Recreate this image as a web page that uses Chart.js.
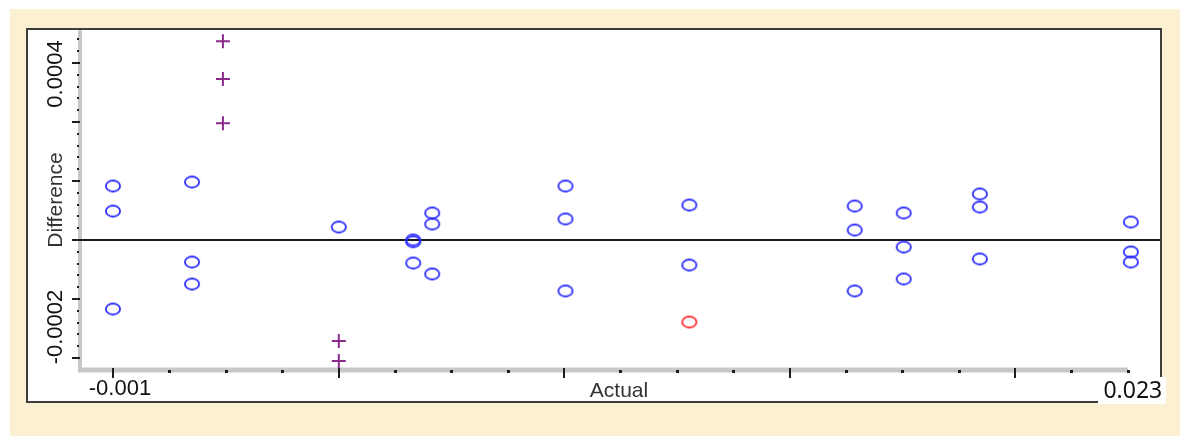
<!DOCTYPE html>
<html>
<head>
<meta charset="utf-8">
<title>Difference vs Actual</title>
<script src="https://cdn.jsdelivr.net/npm/chart.js@4.4.1/dist/chart.umd.min.js"></script>
<style>
    html, body { margin: 0; padding: 0; background: #ffffff; }
    #chart { display: block; }
</style>
</head>
<body>
<canvas id="chart" width="1180" height="436"></canvas>
<script>
// values
const blueX = [-0.001, -0.001, -0.001, 0.00087, 0.00087, 0.00087, 0.00434, 0.0061, 0.0061, 0.0061,
    0.00655, 0.00655, 0.00655, 0.0097, 0.0097, 0.0097, 0.01263, 0.01263, 0.01654, 0.01654, 0.01654,
    0.0177, 0.0177, 0.0177, 0.0195, 0.0195, 0.0195, 0.02307, 0.02307, 0.02307];
const blueY = [0.0000915, 0.0000490, -0.0001170, 0.0000983, -0.0000373, -0.0000746, 0.0000220, 0.0000000, -0.0000030, -0.0000390,
    0.0000458, 0.0000271, -0.0000576, 0.0000915, 0.0000356, -0.0000864, 0.0000593, -0.0000424, 0.0000576, 0.0000169, -0.0000864,
    0.0000458, -0.0000119, -0.0000661, 0.0000780, 0.0000559, -0.0000322, 0.0000305, -0.0000203, -0.0000373];
const redX = [0.01263];
const redY = [-0.000139];
const plusX = [0.0016, 0.0016, 0.0016, 0.00434, 0.00434];
const plusY = [0.000337, 0.000273, 0.000198, -0.000171, -0.000205];

const xLabels = ["-0.001", "Actual", "0.023"];
const yLabels = ["0.0004", "Difference", "-0.0002"];

const xStart = -0.001, xEnd = 0.023;   // ends of the drawn x axis
const xMinorStep = 0.024 / 18;
const yMinorStep = 0.00002, yMajorStep = 0.0001;
const yTickFrom = -0.0002, yTickTo = 0.00034;

function toPoints(xs, ys) {
    return xs.map((x, i) => ({ x: x, y: ys[i] }));
}

// little ellipse used as the marker for the circles
function ellipseMarker(color) {
    const c = document.createElement("canvas");
    c.width = 18;
    c.height = 15;
    const g = c.getContext("2d");
    g.strokeStyle = color;
    g.lineWidth = 1.8;
    g.beginPath();
    g.ellipse(9, 7.5, 7.1, 5.5, 0, 0, Math.PI * 2);
    g.stroke();
    return c;
}

const frame = {
    id: "frame",
    beforeDraw(chart) {
        const ctx = chart.ctx;
        ctx.save();
        // cream page and white box
        ctx.fillStyle = "#fcf0d3";
        ctx.fillRect(10, 9, 1170, 427);
        ctx.fillStyle = "#ffffff";
        ctx.fillRect(27, 29, 1134, 373);
        ctx.strokeStyle = "#3c3c3c";
        ctx.lineWidth = 2;
        ctx.strokeRect(27, 29, 1134, 373);
        ctx.restore();
    },
    beforeDatasetsDraw(chart) {
        const ctx = chart.ctx;
        const area = chart.chartArea;
        const xs = chart.scales.x, ys = chart.scales.y;
        ctx.save();

        // gray axis lines
        ctx.strokeStyle = "#c8c8c8";
        ctx.lineWidth = 4;
        ctx.beginPath();
        ctx.moveTo(area.left, area.top);
        ctx.lineTo(area.left, area.bottom + 2);
        ctx.stroke();
        ctx.lineWidth = 5;
        ctx.beginPath();
        ctx.moveTo(area.left - 2, area.bottom);
        ctx.lineTo(xs.getPixelForValue(xEnd), area.bottom);
        ctx.stroke();

        // zero line
        const y0 = ys.getPixelForValue(0);
        ctx.strokeStyle = "#1a1a1a";
        ctx.lineWidth = 1.8;
        ctx.beginPath();
        ctx.moveTo(area.left, y0);
        ctx.lineTo(area.right, y0);
        ctx.stroke();

        // y ticks
        ctx.fillStyle = "#1e1e1e";
        const nY = Math.round((yTickTo - yTickFrom) / yMinorStep);
        for (let i = 0; i <= nY; i++) {
            const v = yTickFrom + i * yMinorStep;
            const py = Math.round(ys.getPixelForValue(v));
            const major = Math.abs(v / yMajorStep - Math.round(v / yMajorStep)) < 1e-6;
            if (major) {
                ctx.fillRect(area.left - 8, py - 1, 8, 2);
            } else {
                ctx.fillRect(area.left - 3, py - 1, 2, 2);
            }
        }

        // x ticks
        for (let k = 0; k <= 18; k++) {
            const px = Math.round(xs.getPixelForValue(xStart + k * xMinorStep));
            if (k % 4 === 0) {
                ctx.fillRect(px - 1, area.bottom - 2, 2, 10);
            } else {
                ctx.fillRect(px - 1, area.bottom, 3, 3);
            }
        }
        ctx.restore();
    },
    afterDatasetsDraw(chart) {
        const ctx = chart.ctx;
        const area = chart.chartArea;
        const xs = chart.scales.x;
        ctx.save();

        // label box that sits over the corner of the frame
        ctx.fillStyle = "#ffffff";
        ctx.fillRect(1098, 377, 68, 27);

        ctx.textAlign = "center";
        ctx.textBaseline = "alphabetic";

        // x axis texts
        ctx.fillStyle = "#111111";
        ctx.font = "22px 'Liberation Sans', Arial, sans-serif";
        ctx.fillText(xLabels[0], xs.getPixelForValue(xStart) + 7, area.bottom + 25);
        ctx.fillStyle = "#333333";
        ctx.font = "21px 'Liberation Sans', Arial, sans-serif";
        ctx.fillText(xLabels[1], (area.left + area.right) / 2 - 1, area.bottom + 27);
        ctx.fillStyle = "#111111";
        ctx.font = "23px 'Noto Sans', sans-serif";
        ctx.fillText(xLabels[2], xs.getPixelForValue(xEnd) + 5, area.bottom + 28);

        // y axis texts, turned
        const yPos = [area.top + 44, (area.top + area.bottom) / 2, area.bottom - 43];
        yLabels.forEach((t, i) => {
            ctx.save();
            ctx.translate(area.left - 18, yPos[i]);
            ctx.rotate(-Math.PI / 2);
            ctx.fillStyle = i === 1 ? "#333333" : "#111111";
            ctx.font = i === 1 ? "21px 'Liberation Sans', Arial, sans-serif" : "22px 'Liberation Sans', Arial, sans-serif";
            ctx.fillText(t, 0, 0);
            ctx.restore();
        });
        ctx.restore();
    }
};

const ctx = document.getElementById("chart").getContext("2d");
new Chart(ctx, {
    type: "scatter",
    data: {
        datasets: [
            {
                label: "plus",
                data: toPoints(plusX, plusY),
                pointStyle: "cross",
                radius: 7,
                borderColor: "#8c2a8c",
                borderWidth: 2,
            },
            {
                label: "blue",
                data: toPoints(blueX, blueY),
                pointStyle: ellipseMarker("#2b2bff"),
            },
            {
                label: "red",
                data: toPoints(redX, redY),
                pointStyle: ellipseMarker("#ff2b2b"),
            }
        ]
    },
    options: {
        responsive: false,
        devicePixelRatio: 1,
        animation: false,
        layout: { padding: { left: 80, top: 30, right: 20, bottom: 66 } },
        scales: {
            x: { type: "linear", display: false, min: -0.00178, max: 0.02376 },
            y: { type: "linear", display: false, min: -0.00022034, max: 0.00035593 }
        },
        plugins: {
            legend: { display: false },
            tooltip: { enabled: false }
        }
    },
    plugins: [frame]
});
</script>
</body>
</html>
